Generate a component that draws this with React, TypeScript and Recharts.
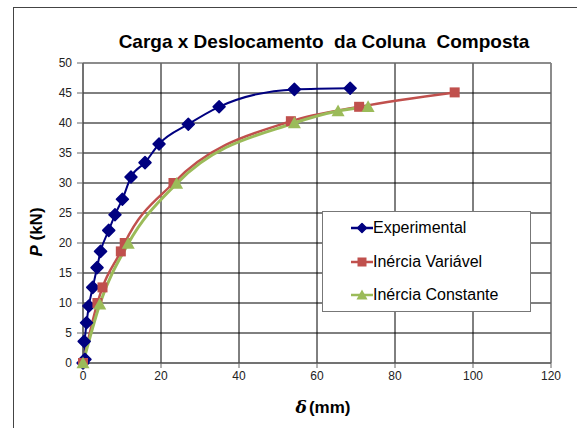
import React from "react";
import {
  LineChart,
  Line,
  XAxis,
  YAxis,
  CartesianGrid,
  ReferenceLine,
} from "recharts";

// Carga x Deslocamento
const experimental = [
  { d: 0, p: 0 },
  { d: 0.5, p: 0.6 },
  { d: 0.3, p: 3.6 },
  { d: 0.9, p: 6.7 },
  { d: 1.5, p: 9.5 },
  { d: 2.5, p: 12.6 },
  { d: 3.6, p: 15.9 },
  { d: 4.5, p: 18.6 },
  { d: 6.6, p: 22.1 },
  { d: 8.2, p: 24.7 },
  { d: 10.1, p: 27.3 },
  { d: 12.3, p: 31.0 },
  { d: 15.9, p: 33.4 },
  { d: 19.5, p: 36.5 },
  { d: 27.0, p: 39.8 },
  { d: 34.9, p: 42.7 },
  { d: 54.2, p: 45.6 },
  { d: 68.5, p: 45.8 },
];

const inerciaVariavel = [
  { d: 0, p: 0 },
  { d: 3.7, p: 10.0 },
  { d: 5.0, p: 12.6 },
  { d: 9.7, p: 18.6 },
  { d: 10.7, p: 20.0 },
  { d: 23.2, p: 30.0 },
  { d: 53.3, p: 40.3 },
  { d: 70.8, p: 42.7 },
  { d: 95.3, p: 45.1 },
];

const inerciaConstante = [
  { d: 0, p: 0 },
  { d: 4.3, p: 9.8 },
  { d: 11.6, p: 19.9 },
  { d: 24.0, p: 29.9 },
  { d: 54.2, p: 40.0 },
  { d: 65.4, p: 42.0 },
  { d: 73.1, p: 42.7 },
];

const xTicks = [0, 20, 40, 60, 80, 100, 120];
const yTicks = [0, 5, 10, 15, 20, 25, 30, 35, 40, 45, 50];

const BLUE = "#000080";
const RED = "#C0504D";
const GREEN = "#9BBB59";
const FONT = "'Liberation Sans', Arial, sans-serif";

function Diamond({ cx, cy, color, r = 6 }: any) {
  return (
    <path
      d={`M${cx},${cy - r}L${cx + r},${cy}L${cx},${cy + r}L${cx - r},${cy}Z`}
      fill={color}
      stroke={color}
      strokeWidth={1.5}
      strokeLinejoin="round"
    />
  );
}

function Square({ cx, cy, color, r = 5 }: any) {
  return <rect x={cx - r} y={cy - r} width={r * 2} height={r * 2} fill={color} />;
}

function Triangle({ cx, cy, color, r = 6.5 }: any) {
  return (
    <path
      d={`M${cx},${cy - r}L${cx + r},${cy + r * 0.8}L${cx - r},${cy + r * 0.8}Z`}
      fill={color}
    />
  );
}

const legendItems = [
  { name: "Experimental", color: BLUE, Shape: Diamond },
  { name: "Inércia Variável", color: RED, Shape: Square },
  { name: "Inércia Constante", color: GREEN, Shape: Triangle },
];

export default function App() {
  return (
    <div
      style={{
        position: "absolute",
        left: 0,
        top: 0,
        width: 577,
        height: 428,
        background: "#fff",
        overflow: "hidden",
        fontFamily: FONT,
      }}
    >
      {/* moldura externa */}
      <div
        style={{
          position: "absolute",
          left: 13,
          top: 7,
          width: 700,
          height: 500,
          borderLeft: "1px solid #444",
          borderTop: "1px solid #444",
        }}
      />
      <div
        style={{
          position: "absolute",
          left: 0,
          width: 648,
          top: 31,
          textAlign: "center",
          fontSize: 19,
          fontWeight: 700,
          color: "#000",
          whiteSpace: "pre",
        }}
      >
        Carga x Deslocamento  da Coluna  Composta
      </div>
      <div style={{ position: "absolute", left: 0, top: 0 }}>
        <LineChart
          width={577}
          height={428}
          margin={{ top: 63, right: 26, bottom: 35, left: 0 }}
        >
          <CartesianGrid stroke="#000" strokeWidth={1} />
          <XAxis
            type="number"
            dataKey="d"
            domain={[0, 120]}
            ticks={xTicks}
            interval={0}
            height={30}
            tick={{ fill: "#222", fontSize: 12, fontFamily: FONT }}
            tickSize={5}
            tickMargin={3}
            stroke="#666"
          />
          <YAxis
            type="number"
            dataKey="p"
            domain={[0, 50]}
            ticks={yTicks}
            interval={0}
            width={83}
            tick={{ fill: "#222", fontSize: 12, fontFamily: FONT }}
            tickSize={6}
            tickMargin={5}
            stroke="#666"
          />
          <ReferenceLine y={50} stroke="#999" />
          <ReferenceLine x={120} stroke="#999" />
          <Line
            data={experimental}
            dataKey="p"
            type="monotone"
            stroke={BLUE}
            strokeWidth={2}
            isAnimationActive={false}
            dot={(props: any) => (
              <Diamond key={`e${props.index}`} cx={props.cx} cy={props.cy} color={BLUE} />
            )}
          />
          <Line
            data={inerciaVariavel}
            dataKey="p"
            type="monotone"
            stroke={RED}
            strokeWidth={2.5}
            isAnimationActive={false}
            dot={(props: any) => (
              <Square key={`v${props.index}`} cx={props.cx} cy={props.cy} color={RED} />
            )}
          />
          <Line
            data={inerciaConstante}
            dataKey="p"
            type="monotone"
            stroke={GREEN}
            strokeWidth={3}
            isAnimationActive={false}
            dot={(props: any) => (
              <Triangle key={`c${props.index}`} cx={props.cx} cy={props.cy} color={GREEN} />
            )}
          />
        </LineChart>
      </div>
      {/* rótulo eixo Y */}
      <div
        style={{
          position: "absolute",
          left: 37,
          top: 232,
          transform: "translate(-50%, -50%) rotate(-90deg)",
          fontSize: 17,
          fontWeight: 700,
          whiteSpace: "nowrap",
        }}
      >
        <i>P</i> (kN)
      </div>
      {/* rótulo eixo X */}
      <div
        style={{
          position: "absolute",
          left: 323,
          top: 407,
          transform: "translate(-50%, -50%)",
          fontSize: 17,
          fontWeight: 700,
          whiteSpace: "nowrap",
        }}
      >
        <i style={{ fontFamily: "'DejaVu Serif', serif" }}>δ</i>
        <span style={{ marginLeft: 2 }}>(mm)</span>
      </div>
      {/* legenda */}
      <div
        style={{
          position: "absolute",
          left: 322,
          top: 211,
          width: 207,
          height: 99,
          border: "1px solid #777",
          background: "#fff",
        }}
      >
        {legendItems.map((it, i) => (
          <div
            key={it.name}
            style={{
              position: "absolute",
              left: 28,
              top: 6 + i * 33.5,
              height: 20,
              display: "flex",
              alignItems: "center",
              fontSize: 16,
              color: "#000",
              whiteSpace: "nowrap",
            }}
          >
            <svg width={22} height={20} style={{ display: "block" }}>
              <line x1={0} y1={10} x2={22} y2={10} stroke={it.color} strokeWidth={2.5} />
              <it.Shape cx={11} cy={10} color={it.color} r={i === 2 ? 5.5 : 4.5} />
            </svg>
            <span>{it.name}</span>
          </div>
        ))}
      </div>
    </div>
  );
}
